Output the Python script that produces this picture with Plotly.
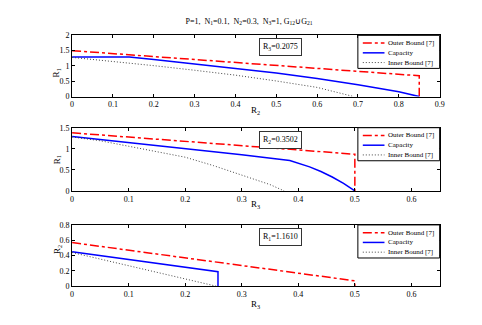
import plotly.graph_objects as go
from plotly.subplots import make_subplots

# panel 1: R1 vs R2 (R3=0.2075)
p1_outer_x = [0, 0.85, 0.85]
p1_outer_y = [1.5, 0.68, 0]
p1_cap_x = [0, 0.14, 0.2, 0.3, 0.4, 0.5, 0.6, 0.7, 0.8, 0.85]
p1_cap_y = [1.29, 1.29, 1.21, 1.07, 0.92, 0.77, 0.59, 0.39, 0.16, 0]
p1_inn_x = [0, 0.1, 0.2, 0.3, 0.4, 0.5, 0.6, 0.69]
p1_inn_y = [1.28, 1.15, 1.01, 0.86, 0.7, 0.51, 0.3, 0]

# panel 2: R1 vs R3 (R2=0.3502)
p2_outer_x = [0, 0.5, 0.5]
p2_outer_y = [1.38, 0.87, 0]
p2_cap_x = [0, 0.1, 0.2, 0.3, 0.385, 0.4, 0.42, 0.44, 0.46, 0.48, 0.5]
p2_cap_y = [1.29, 1.15, 1.0, 0.86, 0.72, 0.66, 0.57, 0.46, 0.33, 0.18, 0]
p2_inn_x = [0, 0.05, 0.1, 0.15, 0.2, 0.25, 0.3, 0.35, 0.375]
p2_inn_y = [1.28, 1.19, 1.06, 0.93, 0.8, 0.6, 0.38, 0.15, 0]

# panel 3: R2 vs R3 (R1=1.1610)
p3_outer_x = [0, 0.5, 0.5]
p3_outer_y = [0.57, 0.07, 0]
p3_cap_x = [0, 0.258, 0.258]
p3_cap_y = [0.45, 0.19, 0]
p3_inn_x = [0, 0.255]
p3_inn_y = [0.44, 0]

legend_names = ["Outer Bound [7]", "Capacity", "Inner Bound [7]"]
box_labels = ["R<sub>3</sub>=0.2075", "R<sub>2</sub>=0.3502", "R<sub>1</sub>=1.1610"]
x_titles = ["R<sub>2</sub>", "R<sub>3</sub>", "R<sub>3</sub>"]
y_titles = ["R<sub>1</sub>", "R<sub>1</sub>", "R<sub>2</sub>"]

FONT = "Liberation Serif"
W, H = 482, 325

fig = make_subplots(rows=3, cols=1)

panels = [
    (p1_outer_x, p1_outer_y, p1_cap_x, p1_cap_y, p1_inn_x, p1_inn_y),
    (p2_outer_x, p2_outer_y, p2_cap_x, p2_cap_y, p2_inn_x, p2_inn_y),
    (p3_outer_x, p3_outer_y, p3_cap_x, p3_cap_y, p3_inn_x, p3_inn_y),
]
styles = [
    dict(color="red", width=1.5, dash="dashdot"),
    dict(color="blue", width=1.5),
    dict(color="#444444", width=1, dash="1px,2px"),
]

for i, p in enumerate(panels):
    for k in range(3):
        fig.add_trace(go.Scatter(x=p[2 * k], y=p[2 * k + 1], mode="lines",
                                 name=legend_names[k], line=styles[k],
                                 showlegend=False), row=i + 1, col=1)

# pixel layout (top/bottom of each plot area)
left_px, right_px = 63, 436
tops = [24, 119, 219]
bottoms = [87, 184, 282]
xtitle_y = [101, 198, 301]

x_ranges = [[0, 0.9], [0, 0.65], [0, 0.65]]
y_ranges = [[0, 2], [0, 1.5], [0, 0.8]]
y_dticks = [0.5, 0.5, 0.2]

axis_common = dict(showgrid=False, zeroline=False, showline=True, linecolor="black",
                   linewidth=1, mirror="ticks", ticks="inside", ticklen=3,
                   tickcolor="black", tickfont=dict(size=8, family=FONT, color="black"))

def px_x(v):
    return v / W

def px_y(v):
    return 1 - v / H

for i in range(3):
    n = "" if i == 0 else str(i + 1)
    fig.layout["xaxis" + n].update(domain=[px_x(left_px), px_x(right_px)], range=x_ranges[i],
                                   dtick=0.1, **axis_common)
    fig.layout["yaxis" + n].update(domain=[px_y(bottoms[i]), px_y(tops[i])], range=y_ranges[i],
                                   dtick=y_dticks[i], **axis_common)

    # axis titles
    fig.add_annotation(x=px_x((left_px + right_px) / 2), y=px_y(xtitle_y[i]), xref="paper",
                       yref="paper", text=x_titles[i], showarrow=False, yanchor="middle",
                       font=dict(size=9, family=FONT, color="black"))
    fig.add_annotation(x=px_x(40), y=px_y((tops[i] + bottoms[i]) / 2), xref="paper",
                       yref="paper", text=y_titles[i], showarrow=False, textangle=-90,
                       font=dict(size=9, family=FONT, color="black"))

    # value box
    fig.add_annotation(x=px_x(274), y=px_y(tops[i] + 3), xref="paper", yref="paper",
                       text=box_labels[i], showarrow=False, xanchor="center", yanchor="top",
                       bgcolor="white", bordercolor="#333333", borderwidth=1, borderpad=3,
                       font=dict(size=8, family=FONT, color="black"))

    # hand-drawn compact legend
    lx0, lx1 = 353, right_px
    ly0, ly1 = tops[i], tops[i] + 34
    fig.add_shape(type="rect", xref="paper", yref="paper",
                  x0=px_x(lx0), x1=px_x(lx1), y0=px_y(ly1), y1=px_y(ly0),
                  fillcolor="white", line=dict(color="black", width=1), layer="above")
    for k in range(3):
        yy = px_y(ly0 + 8 + 10 * k)
        st = dict(styles[k])
        fig.add_shape(type="line", xref="paper", yref="paper",
                      x0=px_x(358), x1=px_x(380), y0=yy, y1=yy, line=st, layer="above")
        fig.add_annotation(x=px_x(382), y=yy, xref="paper", yref="paper",
                           text=legend_names[k], showarrow=False, xanchor="left",
                           yanchor="middle", font=dict(size=7, family=FONT, color="black"))

fig.update_layout(
    width=W, height=H,
    margin=dict(l=0, r=0, t=0, b=0),
    plot_bgcolor="white", paper_bgcolor="white",
    showlegend=False,
    font=dict(family=FONT, size=8, color="black"),
    title=dict(text="P=1,  N<sub>1</sub>=0.1,  N<sub>2</sub>=0.3,  N<sub>3</sub>=1, G<sub>12</sub>∪G<sub>21</sub>",
               x=0.5, xanchor="center", y=px_y(13), yanchor="middle",
               font=dict(size=8, family=FONT)),
)

fig.write_html("out.html")
